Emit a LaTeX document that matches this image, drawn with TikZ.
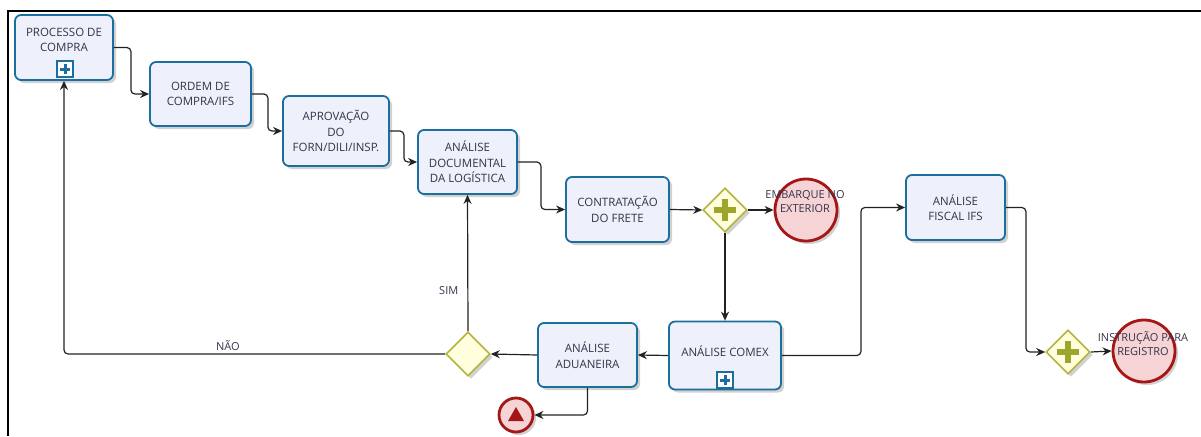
\documentclass[tikz,border=0pt]{standalone}
\usepackage{fontspec}
\setmainfont{Open Sans}
\usetikzlibrary{shapes.geometric,arrows.meta,shadows}
\definecolor{taskblue}{HTML}{1C6E9E}
\definecolor{taskfill}{HTML}{EEF1FB}
\definecolor{txt}{HTML}{34344A}
\definecolor{gwborder}{HTML}{B3B33E}
\definecolor{gwfill}{HTML}{FFFFDE}
\definecolor{gwplus}{HTML}{9DA52A}
\definecolor{endred}{HTML}{A51616}
\definecolor{endfill}{HTML}{F6D4D6}
\definecolor{flowcol}{HTML}{222222}
\tikzset{
  boxshadow/.style={drop shadow={shadow xshift=3pt,shadow yshift=-3pt,opacity=0.18,fill=black}},
  taskbox/.style={draw=taskblue,line width=1.8pt,rounded corners=6pt,fill=taskfill,boxshadow,
    align=center,font=\fontsize{11.5}{15.5}\selectfont,text=txt,inner sep=0pt},
  tasktxt/.style={align=center,font=\fontsize{11.5}{15.5}\selectfont,text=txt,inner sep=0pt},
  gateway/.style={diamond,aspect=1,draw=gwborder,line width=1.6pt,fill=gwfill,boxshadow,
    minimum width=44pt,minimum height=44pt,inner sep=0pt},
  endev/.style={circle,draw=endred,line width=2.8pt,fill=endfill,boxshadow,inner sep=0pt},
  evtxt/.style={align=center,font=\fontsize{11}{14}\selectfont,text=txt,inner sep=0pt},
  flow/.style={draw=flowcol,line width=1.2pt,rounded corners=4pt,-{Stealth[length=9pt,width=8pt]}},
  gwplusline/.style={draw=gwplus,line width=6.5pt},
  markbox/.style={draw=taskblue,line width=1.4pt,fill=white,minimum width=16pt,minimum height=16pt,inner sep=0pt},
  markplus/.style={draw=taskblue,line width=3pt},
  flowlbl/.style={font=\fontsize{11}{13}\selectfont,text=txt,inner sep=0pt}
}
\begin{document}
\begin{tikzpicture}[x=1pt,y=-1pt]
\useasboundingbox (0,0) rectangle (1201,436);
% frame
\draw[line width=2.5pt] (8,436) -- (8,11) -- (1201,11);

% tasks
\node[taskbox,minimum width=98pt,minimum height=65pt] (p1) at (64,47.5) {};
\node[tasktxt] (p1t) at (64,40) {PROCESSO DE\\COMPRA};
\node[markbox] (p1m) at (65,69) {};
\draw[markplus] ([xshift=-5pt]p1m.center) -- ([xshift=5pt]p1m.center);
\draw[markplus] ([yshift=-5pt]p1m.center) -- ([yshift=5pt]p1m.center);

\node[taskbox,minimum width=101pt,minimum height=64pt] (o1) at (200.5,94) {ORDEM DE\\COMPRA/IFS};
\node[taskbox,minimum width=106pt,minimum height=70pt] (a1) at (336,131) {APROVAÇÃO\\DO\\FORN/DILI/INSP.};
\node[taskbox,minimum width=99pt,minimum height=64pt] (d1) at (467.5,162) {ANÁLISE\\DOCUMENTAL\\DA LOGÍSTICA};
\node[taskbox,minimum width=103pt,minimum height=65pt] (c1) at (617.5,209.5) {CONTRATAÇÃO\\DO FRETE};
\node[taskbox,minimum width=99pt,minimum height=65pt] (fi) at (955.5,207.5) {ANÁLISE\\FISCAL IFS};

\node[taskbox,minimum width=112pt,minimum height=68pt] (cx) at (725,355.5) {};
\node[tasktxt] (cxt) at (725,351) {ANÁLISE COMEX};
\node[markbox] (cxm) at (725,380) {};
\draw[markplus] ([xshift=-5pt]cxm.center) -- ([xshift=5pt]cxm.center);
\draw[markplus] ([yshift=-5pt]cxm.center) -- ([yshift=5pt]cxm.center);

\node[taskbox,minimum width=99pt,minimum height=64pt] (ad) at (587.5,355) {ANÁLISE\\ADUANEIRA};

% gateways
\node[gateway] (g1) at (725,210) {};
\draw[gwplusline] ([xshift=-11pt]g1.center) -- ([xshift=11pt]g1.center);
\draw[gwplusline] ([yshift=-11pt]g1.center) -- ([yshift=11pt]g1.center);
\node[gateway] (g2) at (1068,352) {};
\draw[gwplusline] ([xshift=-11pt]g2.center) -- ([xshift=11pt]g2.center);
\draw[gwplusline] ([yshift=-11pt]g2.center) -- ([yshift=11pt]g2.center);
\node[gateway] (gx) at (468,354) {};

% end events
\node[endev,minimum size=62pt] (e1) at (806,210) {};
\node[evtxt] (e1t) at (805,202) {EMBARQUE NO\\EXTERIOR};
\node[endev,minimum size=62pt] (e2) at (1144,351) {};
\node[evtxt] (e2t) at (1143,344) {INSTRUÇÃO PARA\\REGISTRO};
\node[endev,minimum size=34pt] (e3) at (516,415) {};
\fill[endred] ([xshift=-8pt,yshift=-6pt]e3.center) -- ([xshift=8pt,yshift=-6pt]e3.center) -- ([yshift=8pt]e3.center) -- cycle;

% flows
\draw[flow] (p1.east) -- ++(17,0) |- (o1.west);
\draw[flow] (o1.east) -- ++(16,0) |- (a1.west);
\draw[flow] (a1.east) -- ++(14,0) |- (d1.west);
\draw[flow] (d1.east) -- ++(23,0) |- (c1.west);
\draw[flow] (c1.east) -- (g1.west);
\draw[flow] (g1.east) -- (e1.west);
\draw[flow] (g1.south) -- (cx.north);
\draw[flow] (cx.east) -- ++(79,0) |- (fi.west);
\draw[flow] (fi.east) -- ++(20,0) |- (g2.west);
\draw[flow] (g2.east) -- (e2.west);
\draw[flow] (cx.west) -- (ad.east);
\draw[flow] (ad.west) -- (gx.east);
\draw[flow] (gx.north) -- node[flowlbl,pos=0.3,left=9pt] (sim) {SIM} (d1.south);
\draw[flow] (gx.west) -| node[flowlbl,pos=0.285,above=3pt] (nao) {NÃO} (p1.south);
\draw[flow] (ad.south) |- (e3.east);
\end{tikzpicture}
\end{document}
